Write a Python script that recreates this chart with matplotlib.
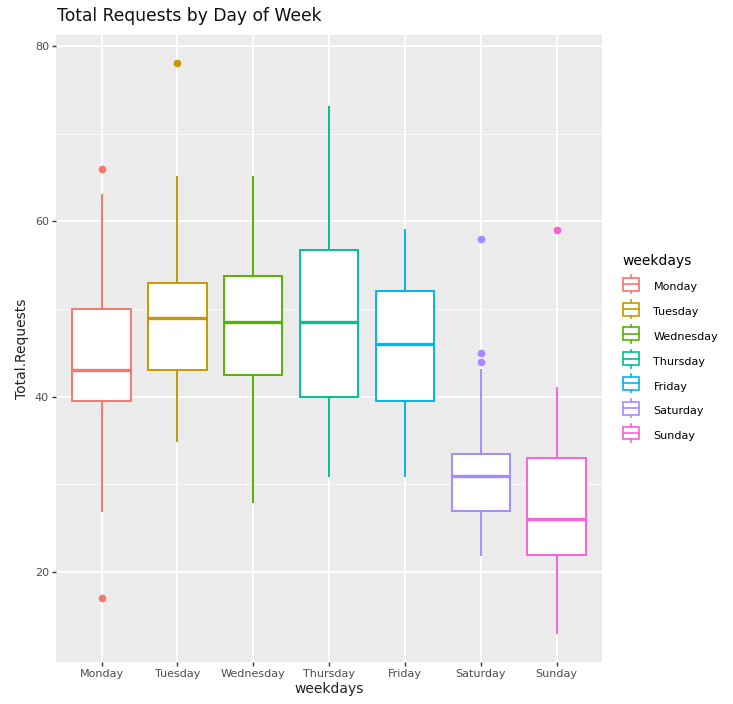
import matplotlib
matplotlib.use("Agg")
import matplotlib.pyplot as plt
from matplotlib.legend_handler import HandlerBase
from matplotlib.patches import Rectangle
from matplotlib.lines import Line2D

# data (box stats per weekday)
days = ["Monday", "Tuesday", "Wednesday", "Thursday", "Friday", "Saturday", "Sunday"]
colors = ["#F8766D", "#C49A00", "#53B400", "#00C094", "#00B6EB", "#A58AFF", "#FB61D7"]
q1 = [39.5, 43, 42.5, 40, 39.5, 27, 22]
med = [43, 49, 48.5, 48.5, 46, 31, 26]
q3 = [50, 53, 53.75, 56.75, 52, 33.5, 33]
wlo = [27, 35, 28, 31, 31, 22, 13]
whi = [63, 65, 65, 73, 59, 43, 41]
outliers = [[66, 17], [78], [], [], [], [58, 45, 44], [59]]

yticks = [20, 40, 60, 80]
yminor = [30, 50, 70]

bg = "#EBEBEB"


class BoxKey(HandlerBase):
    # mini boxplot glyph like the ggplot legend key
    def create_artists(self, legend, orig, xd, yd, w, h, fs, trans):
        c = orig.get_edgecolor()
        bx = xd + w * 0.05
        bw = w * 0.9
        arts = [
            Rectangle((bx, yd - h * 0.15), bw, h * 1.3, facecolor="white",
                      edgecolor=c, lw=1.2, transform=trans),
            Line2D([bx, bx + bw], [yd + h * 0.5] * 2, color=c, lw=1.2, transform=trans),
            Line2D([xd + w / 2] * 2, [yd - h * 0.4, yd - h * 0.15], color=c, lw=1.2, transform=trans),
            Line2D([xd + w / 2] * 2, [yd + h * 1.15, yd + h * 1.4], color=c, lw=1.2, transform=trans),
        ]
        return arts


fig = plt.figure(figsize=(7.33, 7.04), dpi=100)
ax = fig.add_axes([0.0764, 0.0597, 0.745, 0.8906])
ax.set_facecolor(bg)

stats = []
for i, d in enumerate(days):
    stats.append(dict(label=d, q1=q1[i], med=med[i], q3=q3[i],
                      whislo=wlo[i], whishi=whi[i], fliers=outliers[i]))

pos = list(range(1, len(days) + 1))
for i, s in enumerate(stats):
    c = colors[i]
    ax.bxp([s], positions=[pos[i]], widths=0.77, patch_artist=True, showcaps=False,
           boxprops=dict(facecolor="white", edgecolor=c, lw=1.4),
           medianprops=dict(color=c, lw=2.4),
           whiskerprops=dict(color=c, lw=1.4),
           flierprops=dict(marker="o", markerfacecolor=c, markeredgecolor=c, markersize=4.5),
           zorder=3)

ax.set_xlim(0.4, 7.6)
ax.set_ylim(9.75, 81.25)
ax.set_xticks(pos)
ax.set_xticklabels(days)
ax.set_yticks(yticks)
ax.set_yticks(yminor, minor=True)
ax.tick_params(axis="both", which="major", length=3, width=1, color="#333333",
               labelcolor="#4D4D4D", labelsize=8, pad=2)
ax.tick_params(axis="y", which="minor", length=0)
ax.grid(which="major", color="white", lw=1.3, zorder=0)
ax.grid(which="minor", axis="y", color="white", lw=0.6, zorder=0)
ax.set_axisbelow(True)
for sp in ax.spines.values():
    sp.set_visible(False)

ax.set_xlabel("weekdays", fontsize=10, color="#222222", labelpad=2)
ax.set_ylabel("Total.Requests", fontsize=10, color="#222222", labelpad=4)
fig.text(0.078, 0.965, "Total Requests by Day of Week", fontsize=12.3, color="#111111",
         ha="left", va="bottom")

handles = [Rectangle((0, 0), 1, 1, facecolor="white", edgecolor=c) for c in colors]
leg = fig.legend(handles, days, title="weekdays", handler_map={Rectangle: BoxKey()},
                 loc="upper left", bbox_to_anchor=(0.843, 0.646), frameon=False,
                 fontsize=8, title_fontsize=10, handlelength=1.6, handleheight=1.0,
                 labelspacing=1.26, handletextpad=1.2, borderaxespad=0)
leg._legend_box.align = "left"

fig.savefig("out.png", dpi=100)
